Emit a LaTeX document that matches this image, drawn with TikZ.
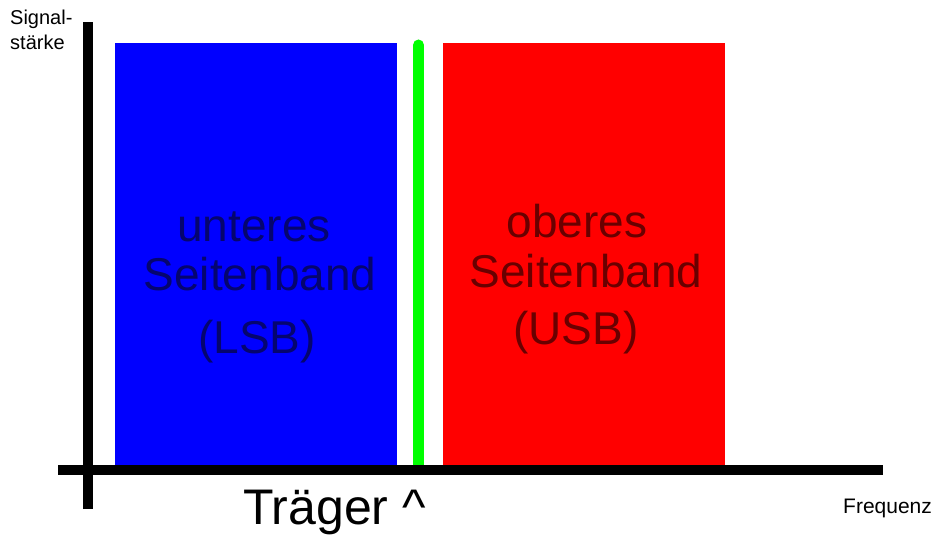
\documentclass[tikz,border=0pt]{standalone}
\usepackage{fontspec}
\setmainfont{Liberation Sans}
\definecolor{bandblue}{RGB}{0,0,255}
\definecolor{bandred}{RGB}{255,0,0}
\definecolor{carrier}{RGB}{0,255,0}
\definecolor{bluetext}{RGB}{5,5,110}
\definecolor{redtext}{RGB}{105,0,0}
\begin{document}
\begin{tikzpicture}[x=1pt,y=-1pt,
  axisline/.style={line width=10pt,black},
  bandtext/.style={inner sep=0pt,anchor=base,font=\fontsize{46}{55}\selectfont},
  axistext/.style={inner sep=0pt,anchor=base west,font=\fontsize{20}{24}\selectfont}]
\useasboundingbox[fill=white] (0,0) rectangle (936,537);
% bands
\fill[bandblue] (115,43) rectangle (397,466);
\fill[bandred] (443,43) rectangle (725,466);
\draw[carrier,line width=11pt,line cap=round] (418.5,45) -- (418.5,466);
% band labels
\node[bandtext,text=bluetext] (lsb1) at (254,242) {unteres};
\node[bandtext,text=bluetext] (lsb2) at (260,290) {Seitenband};
\node[bandtext,text=bluetext] (lsb3) at (257,353) {(LSB)};
\node[bandtext,text=redtext] (usb1) at (577,238) {oberes};
\node[bandtext,text=redtext] (usb2) at (586,287) {Seitenband};
\node[bandtext,text=redtext] (usb3) at (576,344) {(USB)};
% axes
\coordinate (ytop) at (88,22);
\coordinate (ybot) at (88,509);
\coordinate (xleft) at (58,470);
\coordinate (xright) at (883,470);
\draw[axisline] (ybot) -- (ytop);
\draw[axisline] (xleft) -- (xright);
% axis labels
\node[axistext] (sig1) at (10,25) {Signal-};
\node[axistext] (sig2) at (10,50) {stärke};
\node[axistext,font=\fontsize{21}{25}\selectfont] (freq) at (843,513) {Frequenz};
\node[inner sep=0pt,anchor=base west,font=\fontsize{50}{60}\selectfont] (traeger) at (243,524) {Träger \textasciicircum};
\end{tikzpicture}
\end{document}
